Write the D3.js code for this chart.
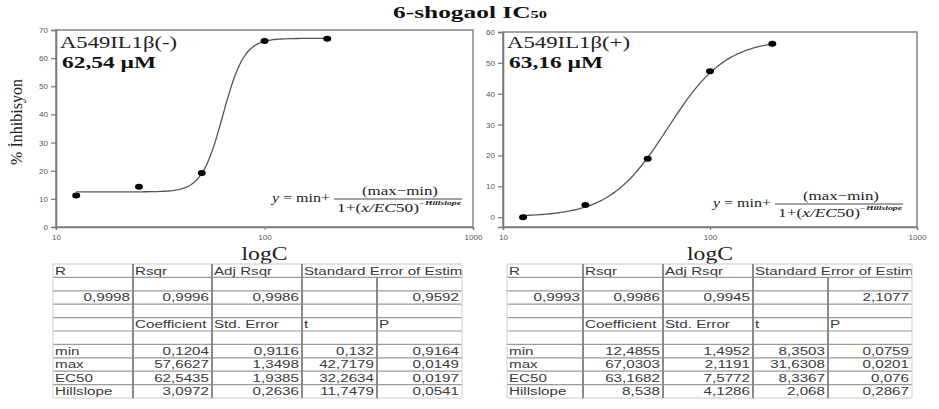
<!DOCTYPE html>
<html>
<head>
<meta charset="utf-8">
<script src="https://cdn.jsdelivr.net/npm/d3@7"></script>
<style>
  html, body { margin: 0; padding: 0; background: #fff; }
  svg { display: block; }
</style>
</head>
<body>
<svg id="chart" width="939" height="409"></svg>
<script>
// ---------------- DATA ----------------
const concentrations = [12.5, 25, 50, 100, 200];
const inhibitionMinus = [11.2, 14.3, 19.2, 66.1, 66.9];   // A549IL1β(-)
const inhibitionPlus  = [0.0, 3.9, 18.9, 47.3, 56.2];     // A549IL1β(+)

const xTickValues = [10, 100, 1000];
const xTickLabels = ["10", "100", "1000"];
const yTicksMinus = [0, 10, 20, 30, 40, 50, 60, 70];
const yTicksPlus  = [0, 10, 20, 30, 40, 50, 60];

const panelLabels = ["A549IL1β(-)", "A549IL1β(+)"];
const ic50Labels  = ["62,54 µM", "63,16 µM"];
const titleMain = "6-shogaol IC";
const titleSub = "50";
const xAxisTitle = "logC";
const yAxisTitle = "% İnhibisyon";

// regression tables
const statHeaders = ["R", "Rsqr", "Adj Rsqr", "Standard Error of Estimate"];
const coefHeaders = ["Coefficient", "Std. Error", "t", "P"];
const paramNames  = ["min", "max", "EC50", "Hillslope"];

const statsA = [0.9998, 0.9996, 0.9986, 0.9592];
const coefA  = [0.1204, 57.6627, 62.5435, 3.0972];
const stdErrA = [0.9116, 1.3498, 1.9385, 0.2636];
const tA = [0.132, 42.7179, 32.2634, 11.7479];
const pA = [0.9164, 0.0149, 0.0197, 0.0541];

const statsB = [0.9993, 0.9986, 0.9945, 2.1077];
const coefB  = [12.4855, 67.0303, 63.1682, 8.538];
const stdErrB = [1.4952, 2.1191, 7.5772, 4.1286];
const tB = [8.3503, 31.6308, 8.3367, 2.068];
const pB = [0.0759, 0.0201, 0.076, 0.2867];

// ---------------- DRAW ----------------
const svg = d3.select("#chart");
const SERIF = "'Liberation Serif', 'Times New Roman', serif";
const SANS = "'Liberation Sans', Arial, sans-serif";
const fmt = v => String(v).replace(".", ",");

function stretchText(g, x, y, str, opts) {
  return g.append("text")
    .attr("transform", `translate(${x},${y}) scale(${opts.sx || 1},1)`)
    .attr("text-anchor", opts.anchor || "start")
    .attr("font-family", opts.family || SANS)
    .attr("font-size", opts.size || 11)
    .attr("font-weight", opts.weight || "normal")
    .attr("fill", opts.fill || "#222")
    .text(str);
}

// Title
const title = svg.append("text")
  .attr("x", 393).attr("y", 18)
  .attr("font-family", SERIF).attr("font-weight", "bold")
  .attr("font-size", 17).attr("fill", "#111")
  .attr("textLength", 154).attr("lengthAdjust", "spacingAndGlyphs");
title.append("tspan").text(titleMain);
title.append("tspan").attr("font-size", 11).text(titleSub);

function hill(p, x) {
  const [mn, mx, ec, h] = p;
  return mn + (mx - mn) / (1 + Math.pow(x / ec, -h));
}

function drawPanel(cfg) {
  const g = svg.append("g");
  const x = d3.scaleLog().domain([10, 1000]).range([cfg.x0, cfg.x1]);
  const y = d3.scaleLinear().domain(cfg.yDomain).range([cfg.y1, cfg.y0]);

  // frame
  g.append("rect")
    .attr("x", cfg.x0).attr("y", cfg.y0)
    .attr("width", cfg.x1 - cfg.x0).attr("height", cfg.y1 - cfg.y0)
    .attr("fill", "none").attr("stroke", "#8c8c8c").attr("stroke-width", 1.6);

  // y axis
  const ya = g.append("g").attr("transform", `translate(${cfg.x0},0)`)
    .call(d3.axisLeft(y).tickValues(cfg.yTicks).tickSize(5).tickPadding(3).tickFormat(d3.format("d")));
  ya.select(".domain").attr("stroke", "#7a7a7a").attr("stroke-width", 1.6);
  ya.selectAll(".tick line").attr("stroke", "#777").attr("stroke-width", 1.2);
  ya.selectAll(".tick text").attr("font-family", SANS).attr("font-size", 8).attr("fill", "#555");

  // x axis
  const xa = g.append("g").attr("transform", `translate(0,${cfg.y1})`)
    .call(d3.axisBottom(x).tickValues(xTickValues).tickSize(3).tickPadding(4)
      .tickFormat((d, i) => xTickLabels[i]));
  xa.select(".domain").attr("stroke", "#7a7a7a").attr("stroke-width", 1.6);
  xa.selectAll(".tick line").attr("stroke", "#777");
  xa.selectAll(".tick text").attr("font-family", SANS).attr("font-size", 8).attr("fill", "#555");

  // fitted curve (from the fitted parameters in the table)
  const lx = d3.scaleLinear().domain([0, 120]).range([Math.log10(concentrations[0]), Math.log10(concentrations[concentrations.length - 1])]);
  const curvePts = d3.range(0, 121).map(i => {
    const c = Math.pow(10, lx(i));
    return [x(c), y(hill(cfg.params, c))];
  });
  g.append("path").attr("d", d3.line()(curvePts))
    .attr("fill", "none").attr("stroke", "#555").attr("stroke-width", 1.3);

  // points
  g.selectAll("ellipse.pt").data(concentrations).join("ellipse")
    .attr("class", "pt")
    .attr("cx", d => x(d)).attr("cy", (d, i) => y(cfg.values[i]))
    .attr("rx", 4).attr("ry", 3).attr("fill", "#000");

  // labels
  svg.append("text").attr("x", cfg.labX).attr("y", 48)
    .attr("font-family", SERIF).attr("font-size", 17).attr("fill", "#222")
    .attr("textLength", cfg.labW).attr("lengthAdjust", "spacingAndGlyphs")
    .text(cfg.label);
  svg.append("text").attr("x", cfg.labX + 2).attr("y", 68)
    .attr("font-family", SERIF).attr("font-size", 17).attr("font-weight", "bold").attr("fill", "#111")
    .attr("textLength", 94).attr("lengthAdjust", "spacingAndGlyphs")
    .text(cfg.ic);

  // x axis title
  svg.append("text").attr("x", x(100) - 23).attr("y", 260)
    .attr("font-family", SERIF).attr("font-size", 18).attr("fill", "#222")
    .attr("textLength", 46).attr("lengthAdjust", "spacingAndGlyphs")
    .text(xAxisTitle);

  drawFormula(cfg.fx, cfg.fy);
}

function drawFormula(x0, yb) {
  const g = svg.append("g").attr("fill", "#222").attr("font-family", SERIF);
  const t1 = g.append("text").attr("x", x0).attr("y", yb + 3).attr("font-size", 12)
    .attr("textLength", 58).attr("lengthAdjust", "spacingAndGlyphs");
  t1.append("tspan").attr("font-style", "italic").text("y");
  t1.append("tspan").text(" = min+");
  g.append("line").attr("x1", x0 + 62).attr("x2", x0 + 190)
    .attr("y1", yb).attr("y2", yb).attr("stroke", "#333").attr("stroke-width", 0.9);
  g.append("text").attr("x", x0 + 90).attr("y", yb - 4).attr("font-size", 13)
    .attr("textLength", 76).attr("lengthAdjust", "spacingAndGlyphs")
    .text("(max\u2212min)");
  const t3 = g.append("text").attr("x", x0 + 65).attr("y", yb + 13).attr("font-size", 13)
    .attr("textLength", 82).attr("lengthAdjust", "spacingAndGlyphs");
  t3.append("tspan").text("1+(");
  t3.append("tspan").attr("font-style", "italic").text("x/EC");
  t3.append("tspan").text("50)");
  g.append("text").attr("x", x0 + 147).attr("y", yb + 6).attr("font-size", 6)
    .attr("font-style", "italic").attr("font-weight", "bold")
    .attr("textLength", 42).attr("lengthAdjust", "spacingAndGlyphs")
    .text("\u2212Hillslope");
}

drawPanel({
  x0: 56, x1: 473, y0: 30, y1: 227, yDomain: [0, 70], yTicks: yTicksMinus,
  values: inhibitionMinus, params: coefB,
  label: panelLabels[0], ic: ic50Labels[0], labX: 60, labW: 117,
  fx: 272, fy: 199
});
drawPanel({
  x0: 503, x1: 917, y0: 32, y1: 227, yDomain: [-3.2, 60], yTicks: yTicksPlus,
  values: inhibitionPlus, params: coefA,
  label: panelLabels[1], ic: ic50Labels[1], labX: 507, labW: 123,
  fx: 713, fy: 204
});

// y axis title (left panel)
svg.append("text")
  .attr("transform", "translate(22,122) rotate(-90)")
  .attr("text-anchor", "middle")
  .attr("font-family", SERIF).attr("font-size", 16).attr("fill", "#222")
  .text(yAxisTitle);

// ---------------- TABLES ----------------
let clipId = 0;
function drawTable(edges, stats, coef, se, t, p) {
  const top = 264, rh = 13.4, nRows = 10;
  const bottom = top + rh * nRows;
  const g = svg.append("g");
  const id = "clip" + (clipId++);
  svg.append("clipPath").attr("id", id).append("rect")
    .attr("x", edges[0]).attr("y", top).attr("width", edges[5] - edges[0]).attr("height", bottom - top);
  const tg = g.append("g").attr("clip-path", `url(#${id})`);

  // horizontal lines
  d3.range(0, nRows + 1).forEach(i => {
    g.append("line").attr("x1", edges[0]).attr("x2", edges[5])
      .attr("y1", top + i * rh).attr("y2", top + i * rh)
      .attr("stroke", i === 0 || i === nRows ? "#c8c8c8" : "#9a9a9a").attr("stroke-width", 1.2);
  });
  // vertical lines
  [1, 2, 3].forEach(k => {
    g.append("line").attr("x1", edges[k]).attr("x2", edges[k])
      .attr("y1", top).attr("y2", bottom).attr("stroke", "#8a8a8a").attr("stroke-width", 2);
  });
  g.append("line").attr("x1", edges[4]).attr("x2", edges[4])
    .attr("y1", top + rh).attr("y2", bottom).attr("stroke", "#8a8a8a").attr("stroke-width", 2);
  [0, 5].forEach(k => {
    g.append("line").attr("x1", edges[k]).attr("x2", edges[k])
      .attr("y1", top).attr("y2", bottom).attr("stroke", "#d0d0d0").attr("stroke-width", 1);
  });

  const base = r => top + r * rh + 10.6;
  const opt = { size: 11.5, sx: 1.32, fill: "#3a3a3a" };
  // header
  statHeaders.forEach((h, c) => stretchText(tg, edges[c] + 2, base(0), h, opt));
  // stats row
  stats.forEach((v, c) => {
    const col = c === 3 ? 4 : c;
    stretchText(tg, edges[col + 1] - 3, base(2), fmt(v), { ...opt, anchor: "end" });
  });
  // coef header
  coefHeaders.forEach((h, c) => stretchText(tg, edges[c + 1] + 2, base(4), h, opt));
  // param rows
  paramNames.forEach((n, r) => {
    stretchText(tg, edges[0] + 2, base(6 + r), n, opt);
    [coef, se, t, p].forEach((arr, c) => {
      stretchText(tg, edges[c + 2] - 3, base(6 + r), fmt(arr[r]), { ...opt, anchor: "end" });
    });
  });
}

drawTable([53, 133, 212, 302, 377, 462], statsA, coefA, stdErrA, tA, pA);
drawTable([507, 583, 663, 753, 828, 912], statsB, coefB, stdErrB, tB, pB);
</script>
</body>
</html>
